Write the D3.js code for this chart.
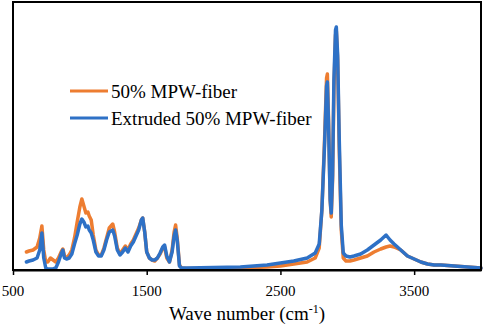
<!DOCTYPE html>
<html><head><meta charset="utf-8">
<script src="https://cdn.jsdelivr.net/npm/d3@7"></script>
<style>html,body{margin:0;padding:0;background:#fff;}
#chart{position:relative;width:484px;height:324px;}
#chart svg{position:absolute;left:0;top:0;display:block;}
.lbl{position:absolute;white-space:nowrap;color:#000;font-family:'Liberation Serif','Times New Roman',serif;}
.tick-lbl{font-size:15px;line-height:15px;top:284.4px;transform:translateX(-50%);}
.leg{font-size:19px;line-height:19px;left:111px;}
#xtitle{font-size:19px;line-height:19px;top:304.1px;left:247px;transform:translateX(-50%);}
#xtitle .sup{font-size:12px;position:relative;top:-7px;}
</style>
</head><body>
<div id="chart">
  <div class="lbl tick-lbl">500</div>
  <div class="lbl tick-lbl">1500</div>
  <div class="lbl tick-lbl">2500</div>
  <div class="lbl tick-lbl">3500</div>
  <div class="lbl leg">50% MPW-fiber</div>
  <div class="lbl leg">Extruded 50% MPW-fiber</div>
  <div class="lbl" id="xtitle">Wave number (cm<span class="sup">-1</span>)</div>
</div>
<script>
const seriesNames = ["50% MPW-fiber", "Extruded 50% MPW-fiber"];
const seriesColors = ["#ED7D31", "#2E71C6"];
const xTicks = [500, 1500, 2500, 3500];
const wavenumbers = [600,620,650,680,700,716,730,745,760,780,800,820,840,860,873,885,900,920,940,960,980,1000,1015,1030,1045,1060,1070,1085,1100,1120,1140,1160,1180,1200,1220,1246,1260,1280,1300,1320,1340,1360,1380,1400,1420,1440,1460,1470,1485,1500,1520,1540,1560,1580,1600,1620,1634,1650,1670,1690,1705,1716,1728,1745,1760,1800,2000,2200,2400,2500,2600,2700,2760,2790,2810,2830,2845,2851,2860,2872,2880,2890,2900,2912,2918,2928,2940,2955,2970,2990,3020,3050,3100,3150,3200,3250,3290,3320,3350,3400,3450,3500,3550,3600,3650,3700,3800,3900,4000];
// pixel-read heights (intensity, arbitrary units)
const mpwFiber = [18,19,20,23,32,44,20,8,8,12,10,8,12,18,21,14,12,15,20,32,48,63,71,64,57,58,54,50,35,20,15,15,22,32,42,46,38,22,16,20,24,20,26,30,36,42,50,52,38,18,12,10,9,12,16,22,23,12,8,20,38,45,32,5,2,1.5,1.5,2,3,4,6,8,12,22,60,130,192,196,150,70,53,90,180,235,239,210,120,40,12,9,9,10,12,14,18,21,23,24,23,20,14,11,8,6,5,5,4,3,2];
const extrudedFiber = [8,9,10,12,20,37,12,2,1,1,1,2,8,16,20,12,11,12,16,26,35,46,51,48,43,44,40,37,30,18,14,14,20,30,38,40,34,20,15,18,22,18,24,28,34,40,50,52,38,18,12,10,10,12,17,23,25,14,8,18,34,40,30,4,2,2,2.5,3,5,7,9,12,17,26,60,125,184,188,145,70,57,95,190,240,243,215,130,45,17,14,13,14,16,20,25,30,35,30,26,20,14,11,8,6,5,5,4,3,2];

const W = 484, H = 324;
const mLeft = 13, mRight = 481, mTop = 2, mBottom = 270;
const root = d3.select("#chart");
const svg = root.insert("svg", ":first-child").attr("width", W).attr("height", H);
const x = d3.scaleLinear().domain([500, 4000]).range([mLeft, mRight]);
const y = d3.scaleLinear().domain([0, 268]).range([mBottom, mTop]);

const line = d3.line().x(d => x(d[0])).y(d => y(d[1]));
[mpwFiber, extrudedFiber].forEach((vals, i) => {
  svg.append("path")
    .datum(wavenumbers.map((w, j) => [w, vals[j]]))
    .attr("fill", "none").attr("stroke", seriesColors[i])
    .attr("stroke-width", 3.5).attr("stroke-linejoin", "round").attr("stroke-linecap", "round")
    .attr("d", line);
});

svg.append("rect").attr("x", mLeft).attr("y", mTop).attr("width", mRight - mLeft).attr("height", mBottom - mTop)
  .attr("fill", "none").attr("stroke", "#000").attr("stroke-width", 2);

const xAxis = d3.axisBottom(x).tickValues(xTicks).tickSize(5).tickSizeOuter(0).tickFormat("");
const gx = svg.append("g").attr("transform", `translate(0,${mBottom})`).call(xAxis);
gx.select(".domain").attr("stroke-width", 2);
gx.selectAll(".tick line").attr("stroke-width", 1.5);

// position the serif HTML tick labels from the scale
root.selectAll(".tick-lbl").data(xTicks).style("left", d => x(d) + "px");

// legend samples and label positions (baseline = top + 0.8375*fontSize)
seriesNames.forEach((n, i) => {
  const yy = 91 + i * 27;
  svg.append("line").attr("x1", 70).attr("x2", 108).attr("y1", yy).attr("y2", yy)
    .attr("stroke", seriesColors[i]).attr("stroke-width", 3);
});
root.selectAll(".leg").data(seriesNames).style("top", (d, i) => (91 + i * 27 + 7 - 0.8375 * 19) + "px");
</script></body></html>
